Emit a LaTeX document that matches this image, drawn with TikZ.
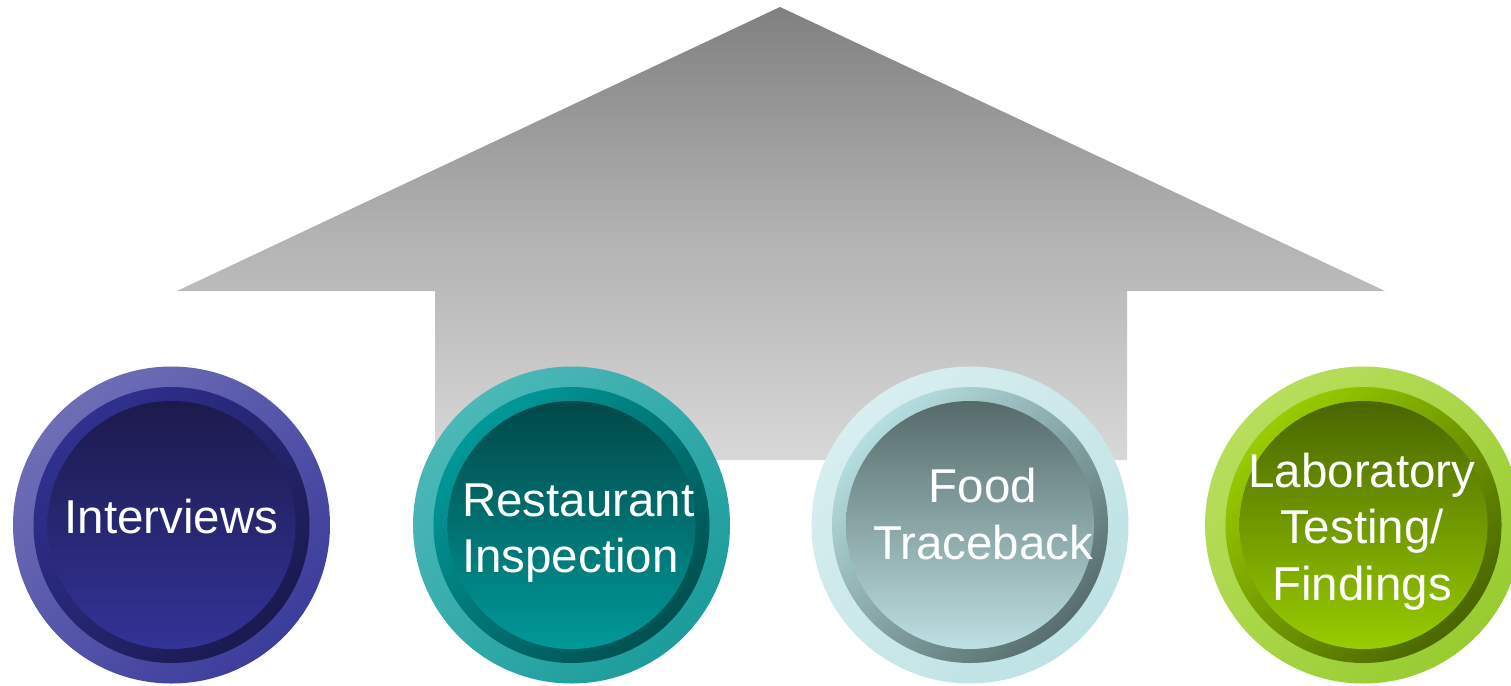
\documentclass[tikz,border=0pt]{standalone}
\usepackage{fontspec}
\setmainfont{Liberation Sans}
\begin{document}
\begin{tikzpicture}[x=1pt,y=-1pt,
  ring/.style={circle,inner sep=0pt,minimum size=#1},
  lbl/.style={text=white,align=center,font=\fontsize{47.5}{56.5}\selectfont,inner sep=0pt}]
\definecolor{arT}{RGB}{128,128,128}
\definecolor{arM}{RGB}{178,178,178}
\definecolor{arB}{RGB}{216,216,216}
% circle 1
\definecolor{aO1}{RGB}{110,110,182}\definecolor{aO2}{RGB}{60,60,156}
\definecolor{aR1}{RGB}{48,48,144}\definecolor{aR2}{RGB}{26,26,80}
\definecolor{aI1}{RGB}{28,26,76}\definecolor{aI2}{RGB}{51,51,153}
% circle 2
\definecolor{bO1}{RGB}{76,184,184}\definecolor{bO2}{RGB}{28,156,156}
\definecolor{bR1}{RGB}{0,153,153}\definecolor{bR2}{RGB}{0,80,80}
\definecolor{bI1}{RGB}{2,72,72}\definecolor{bI2}{RGB}{0,153,153}
% circle 3
\definecolor{cO1}{RGB}{216,238,240}\definecolor{cO2}{RGB}{190,226,228}
\definecolor{cR1}{RGB}{182,222,224}\definecolor{cR2}{RGB}{88,110,110}
\definecolor{cI1}{RGB}{86,106,106}\definecolor{cI2}{RGB}{189,224,226}
% circle 4
\definecolor{dO1}{RGB}{184,222,92}\definecolor{dO2}{RGB}{152,204,48}
\definecolor{dR1}{RGB}{153,204,0}\definecolor{dR2}{RGB}{74,102,0}
\definecolor{dI1}{RGB}{73,102,0}\definecolor{dI2}{RGB}{153,204,0}
\useasboundingbox (0,0) rectangle (1511,685);
\clip (0,0) rectangle (1511,685);
% arrow
\path[top color=arT,bottom color=arB,middle color=arM]
  (780,7) -- (1385,291) -- (1127,291) -- (1127,460) -- (435,460) -- (435,291) -- (177,291) -- cycle;
% circles
\foreach \cx/\p in {171.5/a,571.5/b,970/c,1363.5/d}{
  \node[ring=317pt,top color=\p O1,bottom color=\p O2,shading angle=45] at (\cx,525) {};
  \node[ring=276pt,top color=\p R1,bottom color=\p R2,shading angle=45] at (\cx,525) {};
  \node[ring=248pt,top color=\p I1,bottom color=\p I2] at (\cx,525) {};
}
\node[lbl] (t1) at (171.5,516.5) {Interviews};
\node[lbl,align=left,anchor=west] (t2) at (462,533) {Restaurant\\Inspection};
\node[lbl] (t3) at (983,514) {Food\\Traceback};
\node[lbl] (t4) at (1362,531.5) {Laboratory\\Testing/\\Findings};
\end{tikzpicture}
\end{document}
